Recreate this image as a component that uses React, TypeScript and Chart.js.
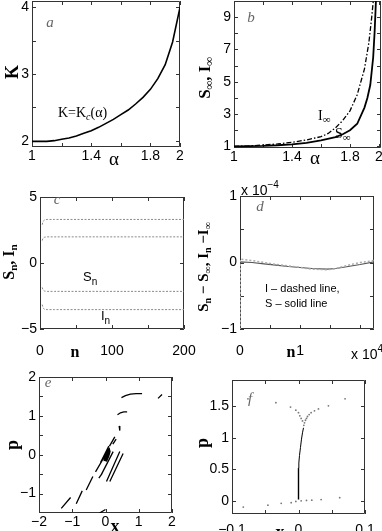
import React, { useEffect, useRef } from "react";
import { Chart, registerables } from "chart.js";
Chart.register(...registerables);

const CW = 382;
const CH = 560;
const SANS = '"Liberation Sans", Arial, Helvetica, sans-serif';
const SERIF = '"Liberation Serif", "Times New Roman", serif';

// ---------- panel a : K = Kc(alpha)
const alphaA = [1.0, 1.05, 1.1, 1.15, 1.2, 1.25, 1.3, 1.35, 1.4, 1.45, 1.5, 1.55, 1.6, 1.65, 1.7, 1.75, 1.8, 1.85, 1.9, 1.95, 2.0];
const kA = [1.99, 1.99, 1.99, 2.0, 2.02, 2.04, 2.07, 2.11, 2.15, 2.2, 2.26, 2.32, 2.39, 2.46, 2.55, 2.65, 2.77, 2.93, 3.14, 3.48, 4.0];
const aXTicks = [1, 1.2, 1.4, 1.6, 1.8, 2];
const aXLabels = ["1", "", "1.4", "", "1.8", "2"];
const aYTicks = [2, 2.5, 3, 3.5, 4];
const aYLabels = ["2", "", "3", "", "4"];

// ---------- panel b : S_inf, I_inf
const alphaI = [1.0, 1.1, 1.2, 1.3, 1.4, 1.5, 1.6, 1.65, 1.7, 1.75, 1.8, 1.85, 1.9, 1.93, 1.95, 1.965];
const iInf = [1.0, 1.03, 1.08, 1.15, 1.25, 1.4, 1.6, 1.8, 2.15, 2.6, 3.2, 4.2, 5.8, 7.4, 9.0, 10.4];
const alphaS = [1.0, 1.1, 1.2, 1.3, 1.4, 1.5, 1.6, 1.7, 1.75, 1.8, 1.85, 1.9, 1.92, 1.94, 1.96, 1.97, 1.98];
const sInf = [1.0, 1.01, 1.03, 1.07, 1.13, 1.22, 1.37, 1.58, 1.75, 2.0, 2.4, 3.4, 4.0, 4.8, 6.5, 8.1, 10.2];
const bXTicks = [1, 1.2, 1.4, 1.6, 1.8, 2];
const bXLabels = ["1", "", "1.4", "", "1.8", "2"];
const bYTicks = [1, 2, 3, 4, 5, 6, 7, 8, 9, 10];
const bYLabels = ["1", "", "3", "", "5", "", "7", "", "9", ""];

// ---------- panel c : S_n, I_n
const nC = [3, 4, 5, 6, 8, 10, 20, 50, 100, 150, 200];
const cUpperOuter = [2.9, 3.1, 3.2, 3.25, 3.28, 3.3, 3.3, 3.3, 3.3, 3.3, 3.3];
const cUpperInner = [1.7, 1.85, 1.92, 1.95, 1.97, 1.98, 1.98, 1.98, 1.98, 1.98, 1.98];
const cLowerInner = [-1.85, -2.0, -2.08, -2.12, -2.14, -2.15, -2.15, -2.15, -2.15, -2.15, -2.15];
const cLowerOuter = [-3.15, -3.35, -3.45, -3.5, -3.52, -3.53, -3.53, -3.53, -3.53, -3.53, -3.53];
const cXTicks = [0, 50, 100, 150, 200];
const cXLabels = ["0", "", "100", "", "200"];
const cYTicks = [-5, 0, 5];
const cYLabels = ["\u22125", "0", "5"];

// ---------- panel d : differences (x 1e-4), n in units of 1e4
const nD = [0, 0.004, 0.2, 0.4, 0.6, 0.8, 1.0, 1.2, 1.45, 1.6, 1.8, 2.0, 2.23];
const dSolid = [-3, 0.01, 0.0, -0.02, -0.04, -0.06, -0.075, -0.09, -0.1, -0.09, -0.06, -0.03, 0.01];
const dDashed = [-3, 0.05, 0.03, 0.0, -0.03, -0.05, -0.075, -0.1, -0.11, -0.09, -0.04, 0.0, 0.03];
const dXTicks = [0, 0.5, 1, 1.5, 2];
const dXLabels = ["0", "", "1", "", ""];
const dYTicks = [-1, -0.5, 0, 0.5, 1];
const dYLabels = ["\u22121", "", "0", "", "1"];

// ---------- panel e : phase portrait (segments separated by null)
const eX = [0.48, 0.6, 0.75, 0.92, 1.1, null, 1.58, 1.7, null, 0.36, 0.45, 0.55, 0.65, null, 0.41, 0.43, null,
  0.12, 0.28, null, 0.22, 0.32, null, -0.3, 0.11, null, -0.13, 0.23, null, 0.03, 0.43, null, 0.13, 0.53, null,
  -0.2, -0.1, null, -0.58, -0.38, null, -0.88, -0.7, null, -1.33, -1.05, null, -0.18, 0.0, null, -0.15, 0.1];
const eY = [1.47, 1.52, 1.56, 1.57, 1.57, null, 1.45, 1.55, null, 1.03, 1.08, 1.1, 1.1, null, 0.74, 0.62, null,
  0.22, 0.46, null, 0.27, 0.4, null, -0.44, 0.16, null, -0.52, 0.08, null, -0.69, 0.08, null, -0.69, 0.03, null,
  -0.6, -0.48, null, -0.91, -0.56, null, -1.26, -0.93, null, -1.38, -1.1, null, -1.5, -1.41, null, -0.2, 0.22];
const eCoreX = [-0.01, 0.02, 0.07, 0.11, 0.1, 0.07, 0.02, -0.02, -0.01];
const eCoreY = [-0.16, -0.14, -0.04, 0.08, 0.11, 0.08, -0.02, -0.12, -0.16];
const eXTicks = [-2, -1, 0, 1, 2];
const eXLabels = ["\u22122", "\u22121", "0", "1", "2"];
const eYTicks = [-1, -0.5, 0, 0.5, 1, 1.5, 2];
const eYLabels = ["\u22121", "", "0", "", "1", "", "2"];

// ---------- panel f : zoomed phase portrait
const fLowX = [0, 0, 0, 0];
const fLowY = [0.02, 0.2, 0.4, 0.52];
const fUpX = [0, 0.0005, 0.0015, 0.003, 0.0045, 0.006, 0.0075];
const fUpY = [0.52, 0.6, 0.72, 0.85, 0.98, 1.08, 1.16];
const fDotX = [0.008, 0.009, 0.0105, 0.012, 0.0135, 0.016, 0.019, 0.024, 0.03, 0.045, 0.07,
  0.006, 0.004, 0.002, 0.0, -0.004, -0.012, -0.034, -0.076,
  -0.083, -0.046, -0.026, -0.011, -0.004, 0.004, 0.012, 0.02, 0.034, 0.062];
const fDotY = [1.2, 1.24, 1.28, 1.31, 1.34, 1.37, 1.4, 1.43, 1.46, 1.51, 1.62,
  1.27, 1.31, 1.35, 1.4, 1.44, 1.49, 1.56, 1.62,
  -0.1, -0.07, -0.04, -0.03, -0.01, 0.0, 0.005, 0.01, 0.02, 0.05];
const fXTicks = [-0.1, -0.05, 0, 0.05, 0.1];
const fXLabels = ["\u22120.1", "", "0", "", "0.1"];
const fYTicks = [0, 0.5, 1, 1.5];
const fYLabels = ["0", "0.5", "1", "1.5"];

// ---------- helpers
type Part = { t: string; f: string; dy?: number; c?: string };
type TextItem = { x: number; y: number; parts: Part[]; align?: "left" | "center"; rot?: boolean };

const xy = (xs: (number | null)[], ys: (number | null)[]) => xs.map((x, i) => ({ x, y: ys[i] }));

function drawText(ctx: CanvasRenderingContext2D, it: TextItem) {
  ctx.save();
  ctx.translate(it.x, it.y);
  if (it.rot) ctx.rotate(-Math.PI / 2);
  ctx.textBaseline = "middle";
  ctx.textAlign = "left";
  let w = 0;
  for (const p of it.parts) {
    ctx.font = p.f;
    w += ctx.measureText(p.t).width;
  }
  let cx = it.align === "left" ? 0 : -w / 2;
  for (const p of it.parts) {
    ctx.font = p.f;
    ctx.fillStyle = p.c || "#000";
    ctx.fillText(p.t, cx, p.dy || 0);
    cx += ctx.measureText(p.t).width;
  }
  ctx.restore();
}

function decoPlugin(texts: TextItem[]) {
  return {
    id: "deco",
    beforeDatasetsDraw(chart: any) {
      const { ctx, chartArea: a, scales } = chart;
      ctx.save();
      ctx.strokeStyle = "#333";
      ctx.lineWidth = 1;
      ctx.beginPath();
      ctx.rect(a.left + 0.5, a.top + 0.5, a.right - a.left - 1, a.bottom - a.top - 1);
      for (const t of scales.x.ticks) {
        const px = Math.round(scales.x.getPixelForValue(t.value)) + 0.5;
        ctx.moveTo(px, a.bottom);
        ctx.lineTo(px, a.bottom - 4);
        ctx.moveTo(px, a.top);
        ctx.lineTo(px, a.top + 4);
      }
      for (const t of scales.y.ticks) {
        const py = Math.round(scales.y.getPixelForValue(t.value)) + 0.5;
        ctx.moveTo(a.left, py);
        ctx.lineTo(a.left + 4, py);
        ctx.moveTo(a.right, py);
        ctx.lineTo(a.right - 4, py);
      }
      ctx.stroke();
      ctx.restore();
    },
    afterDraw(chart: any) {
      for (const t of texts) drawText(chart.ctx, t);
    },
  };
}

function axis(dir: "x" | "y", min: number, max: number, ticks: number[], labels: string[], size: number, pad: number) {
  return {
    type: "linear",
    min,
    max,
    position: dir === "x" ? "bottom" : "left",
    grid: { display: false, drawTicks: false },
    border: { display: false },
    ticks: {
      autoSkip: false,
      maxRotation: 0,
      minRotation: 0,
      padding: pad,
      color: "#000",
      font: { family: SANS, size: 14 },
      callback: (_v: any, i: number) => labels[i] ?? "",
    },
    afterBuildTicks: (s: any) => {
      s.ticks = ticks.map((v) => ({ value: v }));
    },
    afterFit: (s: any) => {
      if (dir === "x") s.height = size;
      else s.width = size;
      s.paddingLeft = 0;
      s.paddingRight = 0;
      s.paddingTop = 0;
      s.paddingBottom = 0;
    },
  };
}

type PanelSpec = {
  area: [number, number, number, number];
  yW: number;
  xH: number;
  xPad: number;
  x: [number, number, number[], string[]];
  y: [number, number, number[], string[]];
  datasets: any[];
  texts: TextItem[];
};

function makeConfig(p: PanelSpec): any {
  const [L, T, R, B] = p.area;
  return {
    type: "scatter",
    data: { datasets: p.datasets },
    options: {
      responsive: false,
      animation: false,
      devicePixelRatio: 1,
      events: [],
      layout: { padding: { left: L - p.yW, top: T, right: CW - R, bottom: CH - B - p.xH } },
      plugins: { legend: { display: false }, tooltip: { enabled: false } },
      scales: {
        x: axis("x", p.x[0], p.x[1], p.x[2], p.x[3], p.xH, p.xPad),
        y: axis("y", p.y[0], p.y[1], p.y[2], p.y[3], p.yW, 3),
      },
    },
    plugins: [decoPlugin(p.texts)],
  };
}

const line = (data: any[], color: string, width: number, dash: number[] = []) => ({
  data,
  showLine: true,
  borderColor: color,
  borderWidth: width,
  borderDash: dash,
  pointRadius: 0,
  fill: false,
  tension: 0,
  spanGaps: false,
});

const letter = (t: string, x: number, y: number): TextItem => ({
  x, y, parts: [{ t, f: `italic 15px ${SERIF}`, c: "#666" }],
});

const sub = (t: string, size: number, bold = false, dy = 4): Part => ({ t, f: `${bold ? "bold " : ""}${size}px ${SERIF}`, dy });
const sr = (t: string, size: number, bold = false): Part => ({ t, f: `${bold ? "bold " : ""}${size}px ${SERIF}` });

const panels: PanelSpec[] = [
  {
    area: [32, 1, 180, 147], yW: 30, xH: 30, xPad: 1,
    x: [1, 2, aXTicks, aXLabels], y: [1.905, 4.095, aYTicks, aYLabels],
    datasets: [line(xy(alphaA, kA), "#000", 1.6)],
    texts: [
      letter("a", 50, 23),
      { x: 58, y: 113, align: "left", parts: [sr("K=K", 14), { t: "c", f: `italic 10px ${SERIF}`, dy: 4 }, sr("(\u03b1)", 14)] },
      { x: 13, y: 72, rot: true, parts: [sr("K", 18, true)] },
      { x: 114, y: 160, parts: [sr("\u03b1", 19)] },
    ],
  },
  {
    area: [234, 1, 381, 148], yW: 30, xH: 30, xPad: 1,
    x: [1, 2.014, bXTicks, bXLabels], y: [0.9, 10, bYTicks, bYLabels],
    datasets: [
      line(xy(alphaI, iInf), "#000", 1.3, [5, 2, 1.5, 2]),
      line(xy(alphaS, sInf), "#000", 1.8),
    ],
    texts: [
      letter("b", 251, 18),
      { x: 318, y: 116, align: "left", parts: [sr("I", 14), sub("\u221e", 11)] },
      { x: 335, y: 134, align: "left", parts: [sr("S", 14), sub("\u221e", 11)] },
      { x: 206, y: 78, rot: true, parts: [sr("S", 17, true), sub("\u221e", 12, true), sr(", I", 17, true), sub("\u221e", 12, true)] },
      { x: 315, y: 159, parts: [sr("\u03b1", 19)] },
    ],
  },
  {
    area: [40, 197, 184, 329], yW: 38, xH: 40, xPad: 14,
    x: [0, 200, cXTicks, cXLabels], y: [-5, 5, cYTicks, cYLabels],
    datasets: [
      line(xy(nC, cUpperOuter), "#8a8a8a", 1, [2, 1.5]),
      line(xy(nC, cUpperInner), "#8a8a8a", 1, [2, 1.5]),
      line(xy(nC, cLowerInner), "#8a8a8a", 1, [2, 1.5]),
      line(xy(nC, cLowerOuter), "#8a8a8a", 1, [2, 1.5]),
    ],
    texts: [
      letter("c", 57, 200),
      { x: 83, y: 277, align: "left", parts: [{ t: "S", f: `13px ${SANS}` }, { t: "n", f: `10px ${SANS}`, dy: 5 }] },
      { x: 101, y: 316, align: "left", parts: [{ t: "I", f: `13px ${SANS}` }, { t: "n", f: `10px ${SANS}`, dy: 5 }] },
      { x: 10, y: 262, rot: true, parts: [sr("S", 16, true), sub("n", 11, true), sr(", I", 16, true), sub("n", 11, true)] },
      { x: 75, y: 353, parts: [sr("n", 16, true)] },
    ],
  },
  {
    area: [240, 196, 374, 329], yW: 38, xH: 40, xPad: 14,
    x: [0, 2.23, dXTicks, dXLabels], y: [-1, 1, dYTicks, dYLabels],
    datasets: [
      line(xy(nD, dDashed), "#aaaaaa", 1.5, [2, 2]),
      line(xy(nD, dSolid), "#555", 1.2),
    ],
    texts: [
      letter("d", 260, 207),
      { x: 241, y: 191, align: "left", parts: [{ t: "x 10", f: `14px ${SANS}` }, { t: "\u22124", f: `10px ${SANS}`, dy: -6 }] },
      { x: 351, y: 355, align: "left", parts: [{ t: "x 10", f: `14px ${SANS}` }, { t: "4", f: `10px ${SANS}`, dy: -6 }] },
      { x: 265, y: 289, align: "left", parts: [{ t: "I \u2013 dashed line,", f: `11px ${SANS}` }] },
      { x: 265, y: 304, align: "left", parts: [{ t: "S \u2013 solid line", f: `11px ${SANS}` }] },
      { x: 204, y: 267, rot: true, parts: [sr("S", 15, true), sub("n", 10, true), sr(" \u2212 S", 15, true), sub("\u221e", 10, true), sr(", I", 15, true), sub("n", 10, true), sr(" \u2212I", 15, true), sub("\u221e", 10, true)] },
      { x: 291, y: 353, parts: [sr("n", 16, true)] },
    ],
  },
  {
    area: [39, 377, 172, 513], yW: 37, xH: 30, xPad: 1,
    x: [-2, 2, eXTicks, eXLabels], y: [-1.5, 2, eYTicks, eYLabels],
    datasets: [
      line(xy(eX, eY), "#000", 1.3),
      line(xy(eCoreX, eCoreY), "#000", 3),
    ],
    texts: [
      letter("e", 48, 383),
      { x: 13, y: 445, rot: true, parts: [sr("p", 18, true)] },
      { x: 115, y: 527, parts: [sr("x", 18, true)] },
    ],
  },
  {
    area: [232, 380, 365, 514], yW: 40, xH: 30, xPad: 8,
    x: [-0.1, 0.1, fXTicks, fXLabels], y: [-0.21, 1.92, fYTicks, fYLabels],
    datasets: [
      line(xy(fLowX, fLowY), "#000", 1.4),
      line(xy(fUpX, fUpY), "#000", 1),
      { data: xy(fDotX, fDotY), showLine: false, pointRadius: 0.9, pointBackgroundColor: "#777", pointBorderWidth: 0 },
    ],
    texts: [
      letter("f", 250, 399),
      { x: 203, y: 443, rot: true, parts: [sr("p", 18, true)] },
      { x: 280, y: 533, parts: [sr("x", 18, true)] },
    ],
  },
];

function Panel({ spec }: { spec: PanelSpec }) {
  const ref = useRef<HTMLCanvasElement | null>(null);
  useEffect(() => {
    if (!ref.current) return;
    const chart = new Chart(ref.current, makeConfig(spec));
    return () => chart.destroy();
  }, [spec]);
  return (
    <canvas
      ref={ref}
      width={CW}
      height={CH}
      style={{ position: "absolute", left: 0, top: 0, width: CW, height: CH }}
    />
  );
}

export default function App() {
  return (
    <div
      style={{
        position: "fixed",
        left: 0,
        top: 0,
        width: CW,
        height: 531,
        overflow: "hidden",
        background: "#fff",
      }}
    >
      {panels.map((p, i) => (
        <Panel key={i} spec={p} />
      ))}
    </div>
  );
}
